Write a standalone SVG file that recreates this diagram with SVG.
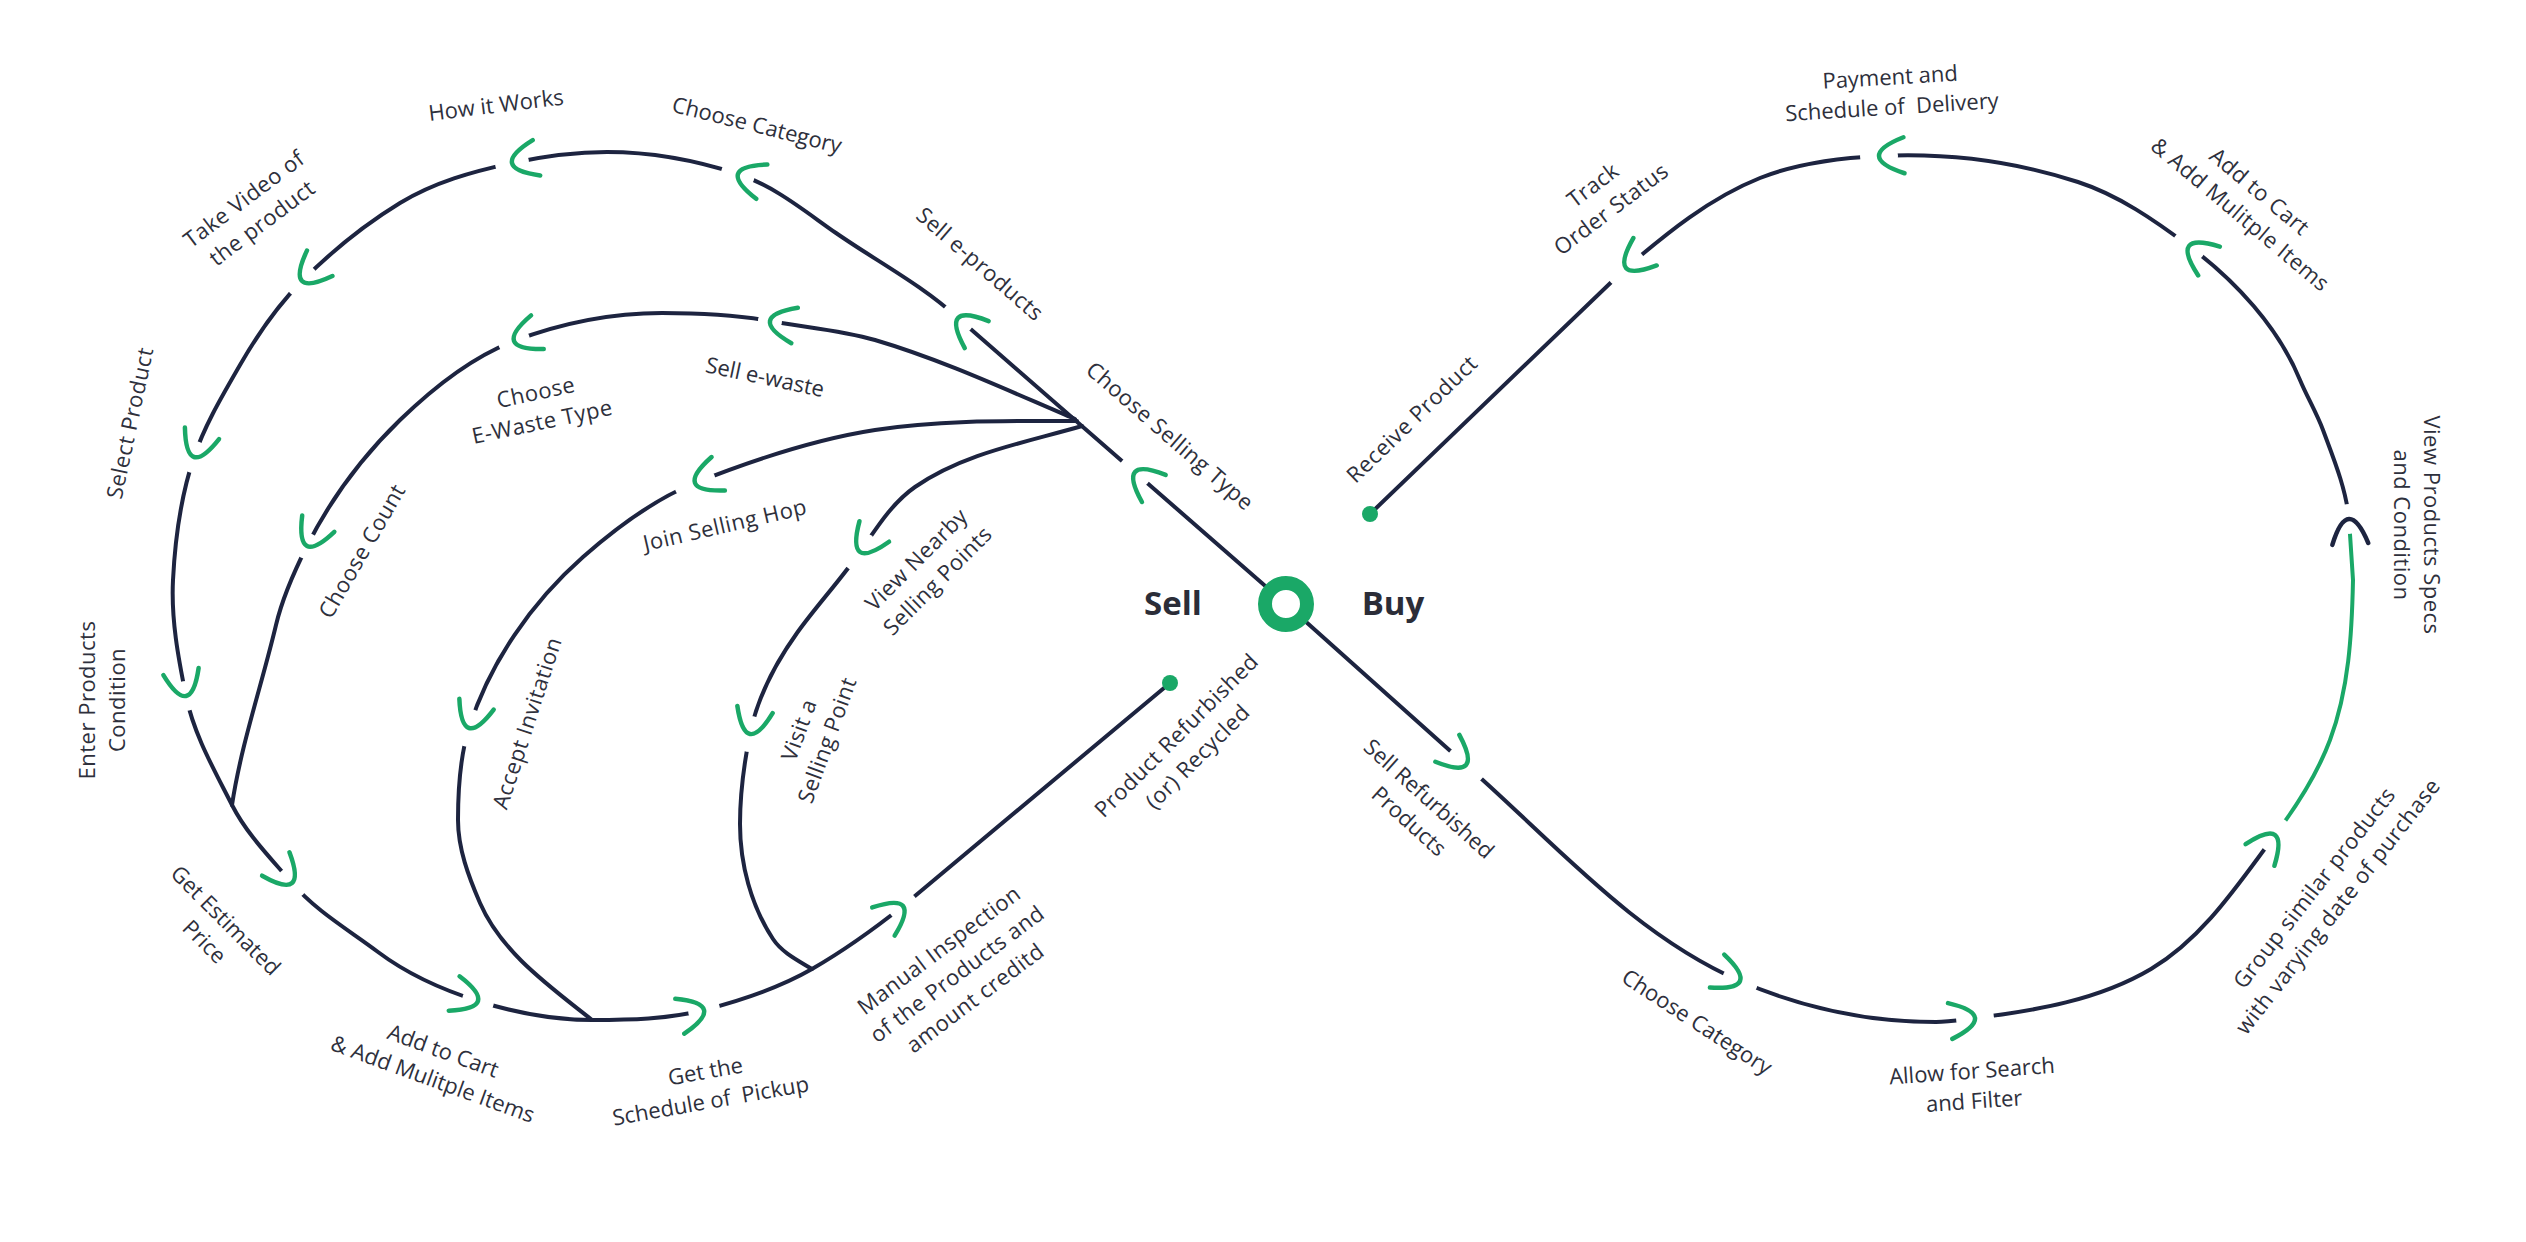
<svg xmlns="http://www.w3.org/2000/svg" xmlns:xlink="http://www.w3.org/1999/xlink" width="2526" height="1242" viewBox="0 0 2526 1242">
<style>
.ln{fill:none;stroke:#1d2440;stroke-width:4;stroke-linecap:round;stroke-linejoin:round}
.gl{fill:none;stroke:#1aa867;stroke-width:4;stroke-linecap:round}
.chev{fill:none;stroke:#1aa867;stroke-width:4.5;stroke-linecap:round;stroke-linejoin:round}
.chevd{fill:none;stroke:#1d2440;stroke-width:4.5;stroke-linecap:round;stroke-linejoin:round}
.t{font-family:"Open Sans","Noto Sans",sans-serif;font-size:22px;font-weight:500;fill:#2e303c;text-anchor:middle}
.m{letter-spacing:0.5px}
.big{font-family:"Open Sans","Noto Sans",sans-serif;font-size:33px;font-weight:700;fill:#2b2d38;text-anchor:middle}
.pre{white-space:pre}
</style>
<defs>
<path id="chev" d="M -25 -18 Q 25 0 -25 18"/>
<mask id="gaps" maskUnits="userSpaceOnUse" x="0" y="0" width="2526" height="1242">
<rect x="0" y="0" width="2526" height="1242" fill="#fff"/>
<g fill="#000">
<circle cx="1135" cy="472" r="17"/><circle cx="958" cy="318" r="17"/><circle cx="738" cy="174" r="17"/>
<circle cx="512" cy="163" r="17"/><circle cx="302" cy="281" r="17"/><circle cx="194" cy="457" r="16"/>
<circle cx="186" cy="696" r="15"/><circle cx="292" cy="883" r="16"/><circle cx="478" cy="1001" r="16"/>
<circle cx="704" cy="1010" r="16"/><circle cx="903" cy="906" r="15"/><circle cx="770" cy="321" r="12"/>
<circle cx="514" cy="341" r="16"/><circle cx="307" cy="546" r="13"/><circle cx="695" cy="483" r="21"/>
<circle cx="469" cy="728" r="19"/><circle cx="860" cy="552" r="20"/><circle cx="750" cy="734" r="18"/>
<circle cx="1466" cy="765" r="21"/><circle cx="1740" cy="981" r="18"/><circle cx="1975" cy="1018" r="19"/>
<circle cx="2275" cy="835" r="18"/><circle cx="2349" cy="519" r="15"/><circle cx="2189" cy="246" r="17"/>
<circle cx="1879" cy="156" r="19"/><circle cx="1626" cy="268" r="21"/>
</g>
</mask>
</defs>
<rect x="0" y="0" width="2526" height="1242" fill="#fff"/>

<g id="connectors" mask="url(#gaps)">
<path id="sell-loop" class="ln" d="M 1286 604 L 958 318 C 921.6 284.8 877 261.5 836 233 C 804.8 211.3 774.1 185.8 738 174 C 696.2 160.4 651 152 607 152 C 575 152 543.4 156.3 512 163 C 472.8 171.4 434 182.2 400 203 C 364.3 224.8 331.4 251.6 302 281 C 277.5 305.5 257.5 334.6 240 365 C 223 394.6 204.9 424.7 194 457 C 180.7 496.5 175.1 538.4 173 580 C 171 619 178.2 657.8 186 696 C 193.9 734.6 214.3 770 232 805 C 246.8 834.2 270.7 858.1 292 883 C 315.9 911 348.6 929.9 378 952 C 407.7 974.3 442.8 989.9 478 1001 C 514.6 1012.6 553.5 1020 592 1020 C 629.5 1020 667.6 1019.4 704 1010 C 741.3 1000.4 778.5 988.3 812 969 C 844.1 950.5 874.2 928.9 903 906 L 1170 683"/>
<path id="ewaste-branch" class="ln" d="M 1075 419 C 1009 391 943.1 360.1 875 340 C 841.2 330 804.9 327.4 770 321 C 734.6 314.5 698.1 313 662 313 C 611.8 313 560.7 323.4 514 341 C 471 357.2 433.3 387.7 400 420 C 362.4 456.5 330.5 499.5 307 546 C 294.3 571.2 282.5 597.5 276 625 C 261.8 684.9 241.3 743.8 232 805"/>
<path id="hop-branch" class="ln" d="M 1077 421 C 1009.6 421 940.4 419.9 875 430 C 814.4 439.4 753.1 459.9 695 483 C 653.4 499.5 616.5 527.5 583 557 C 531.6 602.2 489.6 662.9 469 728 C 459.7 757.4 458 789.1 458 820 C 458 848.6 468.6 876.7 480 903 C 501.6 952.7 549.9 986.5 592 1020"/>
<path id="nearby-branch" class="ln" d="M 1082 426 C 1025.1 442.6 963.6 453.2 915 487 C 891.7 503.2 876.2 528.7 860 552 C 840.5 580 816.8 605.3 797 633 C 775.5 663 757.4 697.6 750 734 C 744 763.6 740 793.8 740 824 C 740 863.9 751.1 905.9 773 939 C 782 952.6 798.1 960.5 812 969"/>
<path id="buy-lower" class="ln" d="M 1286 604 L 1466 765 C 1553.5 841.6 1633 934.5 1740 981 C 1801.4 1007.7 1869.3 1022 1936 1022 C 1949 1022 1962.1 1019.6 1975 1018 C 2035.3 1010.7 2098.6 1000.1 2151 969 C 2203.4 937.9 2238.5 883.7 2275 835"/>
<path id="buy-green" class="gl" d="M 2275 835 C 2297 805.7 2317.2 774.4 2330 740 C 2348.9 689.3 2351.9 633.9 2353 580 L 2349 519"/>
<path id="buy-upper" class="ln" d="M 2349 519 C 2345.9 488.4 2333.8 459 2323 430 C 2316.6 412.8 2307 396.8 2300 380 C 2278 326.6 2235.4 280.8 2189 246 C 2154.8 220.4 2118.6 195.2 2078 182 C 2014.4 161.3 1945.9 152.7 1879 156 C 1838.7 158 1797.5 163.1 1760 178 C 1710 197.9 1666.9 233 1626 268 L 1370 514"/>
</g>

<g id="end-dots" fill="#1aa867">
<circle id="dot-receive" cx="1370" cy="514" r="8"/>
<circle id="dot-refurbished" cx="1170" cy="683" r="8"/>
</g>

<g id="hub">
<circle cx="1286" cy="604" r="21" fill="#fff" stroke="#1aa867" stroke-width="14"/>
<text class="big" x="1173" y="615">Sell</text>
<text class="big" x="1393" y="615">Buy</text>
</g>

<g id="n-choose-selling-type"><use href="#chev" class="chev" transform="translate(1135 472) rotate(-138.8)"/>
<text class="t m" transform="translate(1170 436) rotate(41)"><tspan x="0" dy="7.7">Choose Selling Type</tspan></text></g>

<g id="n-sell-eproducts"><use href="#chev" class="chev" transform="translate(958 318) rotate(-138.4)"/>
<text class="t m" transform="translate(980 264) rotate(41)"><tspan x="0" dy="7.7">Sell e-products</tspan></text></g>

<g id="n-choose-category-sell"><use href="#chev" class="chev" transform="translate(738 174) rotate(-162)"/>
<text class="t" transform="translate(757 125) rotate(14)"><tspan x="0" dy="7.7">Choose Category</tspan></text></g>

<g id="n-how-it-works"><use href="#chev" class="chev" transform="translate(512 163) rotate(168)"/>
<text class="t" transform="translate(496 105) rotate(-7)"><tspan x="0" dy="7.7">How it Works</tspan></text></g>

<g id="n-take-video"><use href="#chev" class="chev" transform="translate(302 281) rotate(135)"/>
<text class="t m" transform="translate(253 211) rotate(-37)"><tspan x="0" dy="-7.3">Take Video of</tspan><tspan x="0" dy="30">the product</tspan></text></g>

<g id="n-select-product"><use href="#chev" class="chev" transform="translate(194 457) rotate(108.6)"/>
<text class="t m" transform="translate(130 423) rotate(-78)"><tspan x="0" dy="7.7">Select Product</tspan></text></g>

<g id="n-enter-condition"><use href="#chev" class="chev" transform="translate(186 696) rotate(78.5)"/>
<text class="t m" transform="translate(102 700) rotate(-90)"><tspan x="0" dy="-7.3">Enter Products</tspan><tspan x="0" dy="30">Condition</tspan></text></g>

<g id="n-estimated-price"><use href="#chev" class="chev" transform="translate(292 883) rotate(49.5)"/>
<text class="t" transform="translate(215 931) rotate(45)"><tspan x="0" dy="-7.3">Get Estimated</tspan><tspan x="0" dy="30">Price</tspan></text></g>

<g id="n-add-to-cart-sell"><use href="#chev" class="chev" transform="translate(478 1001) rotate(17.5)"/>
<text class="t" transform="translate(438 1065) rotate(20)"><tspan x="0" dy="-7.3">Add to Cart</tspan><tspan x="0" dy="30">&amp; Add Mulitple Items</tspan></text></g>

<g id="n-schedule-pickup"><use href="#chev" class="chev" transform="translate(704 1010) rotate(-14.5)"/>
<text class="t pre" transform="translate(708 1086) rotate(-10)"><tspan x="0" dy="-7.3">Get the</tspan><tspan x="0" dy="30">Schedule of  Pickup</tspan></text></g>

<g id="n-manual-inspection"><use href="#chev" class="chev" transform="translate(903 906) rotate(-38.5)"/>
<text class="t m" transform="translate(957 974) rotate(-37)"><tspan x="0" dy="-22.3">Manual Inspection</tspan><tspan x="0" dy="30">of the Products and</tspan><tspan x="0" dy="30">amount creditd</tspan></text></g>

<g id="n-refurbished-recycled">
<text class="t m" transform="translate(1187 746) rotate(-45)"><tspan x="0" dy="-7.3">Product Refurbished</tspan><tspan x="0" dy="30">(or) Recycled</tspan></text></g>

<g id="n-sell-ewaste"><use href="#chev" class="chev" transform="translate(770 321) rotate(-169.6)"/>
<text class="t" transform="translate(765 377) rotate(12)"><tspan x="0" dy="7.7">Sell e-waste</tspan></text></g>

<g id="n-ewaste-type"><use href="#chev" class="chev" transform="translate(514 341) rotate(159.4)"/>
<text class="t m" transform="translate(539 407) rotate(-12)"><tspan x="0" dy="-7.3">Choose</tspan><tspan x="0" dy="30">E-Waste Type</tspan></text></g>

<g id="n-choose-count"><use href="#chev" class="chev" transform="translate(307 546) rotate(116.8)"/>
<text class="t m" transform="translate(362 551) rotate(-60)"><tspan x="0" dy="7.7">Choose Count</tspan></text></g>

<g id="n-join-hop"><use href="#chev" class="chev" transform="translate(695 483) rotate(158.3)"/>
<text class="t m" transform="translate(725 525) rotate(-13)"><tspan x="0" dy="7.7">Join Selling Hop</tspan></text></g>

<g id="n-accept-invitation"><use href="#chev" class="chev" transform="translate(469 728) rotate(107.5)"/>
<text class="t m" transform="translate(527 723) rotate(-72)"><tspan x="0" dy="7.7">Accept Invitation</tspan></text></g>

<g id="n-view-nearby"><use href="#chev" class="chev" transform="translate(860 552) rotate(124.8)"/>
<text class="t m" transform="translate(927 570) rotate(-45)"><tspan x="0" dy="-7.3">View Nearby</tspan><tspan x="0" dy="30">Selling Points</tspan></text></g>

<g id="n-visit-point"><use href="#chev" class="chev" transform="translate(750 734) rotate(101.5)"/>
<text class="t m" transform="translate(813 735) rotate(-70)"><tspan x="0" dy="-7.3">Visit a</tspan><tspan x="0" dy="30">Selling Point</tspan></text></g>

<g id="n-sell-refurbished"><use href="#chev" class="chev" transform="translate(1466 765) rotate(41.8)"/>
<text class="t" transform="translate(1419 810) rotate(42)"><tspan x="0" dy="-7.3">Sell Refurbished</tspan><tspan x="0" dy="30">Products</tspan></text></g>

<g id="n-choose-category-buy"><use href="#chev" class="chev" transform="translate(1740 981) rotate(23.5)"/>
<text class="t" transform="translate(1697 1022) rotate(33)"><tspan x="0" dy="7.7">Choose Category</tspan></text></g>

<g id="n-search-filter"><use href="#chev" class="chev" transform="translate(1975 1018) rotate(-6.9)"/>
<text class="t" transform="translate(1973 1086) rotate(-4)"><tspan x="0" dy="-7.3">Allow for Search</tspan><tspan x="0" dy="30">and Filter</tspan></text></g>

<g id="n-group-similar"><use href="#chev" class="chev" transform="translate(2275 835) rotate(-53.1)"/>
<text class="t m" transform="translate(2326 897) rotate(-52)"><tspan x="0" dy="-7.3">Group similar products</tspan><tspan x="0" dy="30">with varying date of purchase</tspan></text></g>

<g id="n-view-specs"><use href="#chev" class="chevd" transform="translate(2349 519) rotate(-93)"/>
<text class="t m" transform="translate(2417 525) rotate(90)"><tspan x="0" dy="-7.3">View Products Specs</tspan><tspan x="0" dy="30">and Condition</tspan></text></g>

<g id="n-add-to-cart-buy"><use href="#chev" class="chev" transform="translate(2189 246) rotate(-143.1)"/>
<text class="t m" transform="translate(2250 203) rotate(40)"><tspan x="0" dy="-7.3">Add to Cart</tspan><tspan x="0" dy="30">&amp; Add Mulitple Items</tspan></text></g>

<g id="n-payment-delivery"><use href="#chev" class="chev" transform="translate(1879 156) rotate(178.3)"/>
<text class="t pre" transform="translate(1891 92) rotate(-3.5)"><tspan x="0" dy="-7.3">Payment and</tspan><tspan x="0" dy="30">Schedule of  Delivery</tspan></text></g>

<g id="n-track-order"><use href="#chev" class="chev" transform="translate(1626 268) rotate(139.5)"/>
<text class="t m" transform="translate(1602 197) rotate(-37)"><tspan x="0" dy="-7.3">Track</tspan><tspan x="0" dy="30">Order Status</tspan></text></g>

<g id="n-receive-product">
<text class="t m" transform="translate(1412 419) rotate(-44)"><tspan x="0" dy="7.7">Receive Product</tspan></text></g>
</svg>
